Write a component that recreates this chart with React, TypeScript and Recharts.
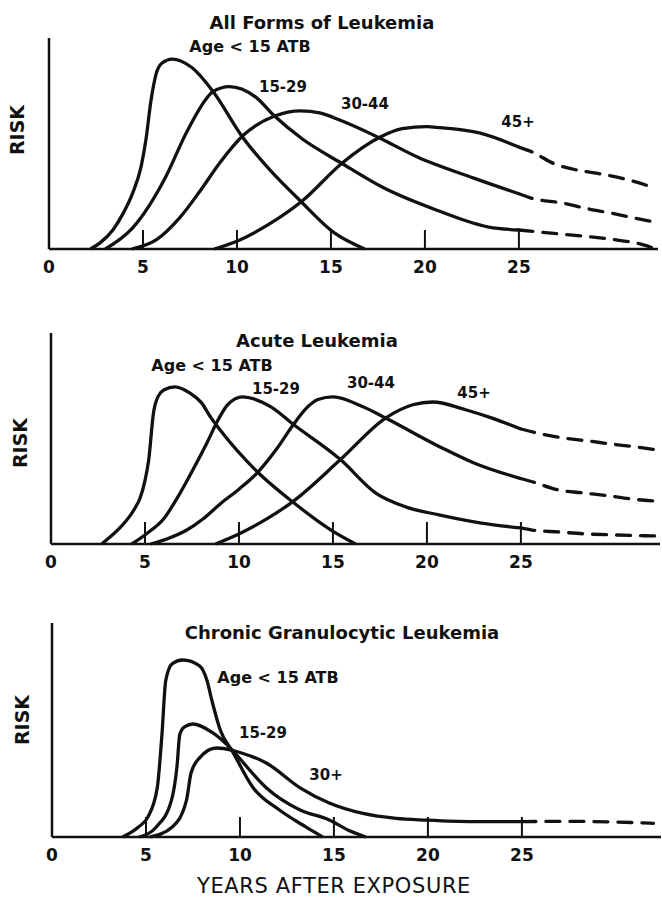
import React from "react";
import { LineChart, Line, XAxis, YAxis, ReferenceLine } from "recharts";

// Risk curves: [years after exposure, relative risk 0..100]
// Solid part runs to 25 years, the dashed part is the extrapolation beyond.
const allU15 = [[2.2, 0], [2.7, 2.8], [3.4, 9], [3.95, 17], [4.45, 26.5], [4.9, 39], [5.16, 52], [5.42, 70], [5.7, 83], [6.0, 88], [6.55, 90], [7.6, 86], [8.7, 75], [10.3, 53], [11.8, 37], [13.35, 23], [15.2, 7.5], [16.8, 0]];
const all1529 = [[3.0, 0], [4.45, 10], [6.2, 34], [7.3, 55], [8.35, 71], [8.7, 74.5], [9.6, 77], [11.0, 72], [12.0, 63], [13.5, 52], [15.5, 41], [17.8, 29], [20.6, 18.5], [23.4, 10.4], [25, 9]];
const all1529Dash = [[25, 9], [26.1, 8], [28.5, 6], [30, 4.5], [31.4, 2.5], [32.1, 0.6]];
const all3044 = [[4.4, 0], [5.7, 4.3], [6.97, 15], [8.0, 27], [9.1, 41], [10.35, 54], [12.0, 63], [13.4, 65.5], [14.4, 64.5], [15.5, 61], [17.5, 53], [19.6, 43.6], [22.6, 33.6], [25, 26.2]];
const all3044Dash = [[25, 26.2], [25.7, 24], [27.3, 21.8], [28.7, 19], [29.9, 17], [31.7, 13.7], [32.4, 12.5]];
const all45 = [[8.8, 0], [10.15, 4.3], [11.75, 12], [13.5, 23], [15.6, 40.8], [17.6, 53], [18.8, 57], [20.1, 58], [20.8, 57.5], [22.9, 55], [25, 48.3]];
const all45Dash = [[25, 48.3], [25.7, 46], [26.9, 40.3], [28.1, 37.4], [29.4, 35.5], [30.85, 32.7], [32.2, 29]];

const acuteU15 = [[2.7, 0], [3.14, 3.3], [3.7, 8], [4.4, 16], [4.75, 22], [5.0, 30], [5.2, 40], [5.45, 62], [5.7, 70], [6.0, 73], [6.6, 74.5], [7.4, 71.5], [8.0, 67], [8.5, 60], [9.0, 54], [11.0, 34], [12.85, 20], [14.9, 6.6], [16.2, 0]];
const acute1529 = [[4.3, 0], [5.1, 5], [6.0, 12], [6.86, 24], [7.6, 36], [8.3, 48], [8.9, 59], [9.4, 66], [10.2, 69.7], [11.7, 65], [12.85, 57], [15.4, 40], [17.3, 24], [18.9, 17.5], [20.7, 13.7], [22.9, 9.9], [25, 7.6]];
const acute1529Dash = [[25, 7.6], [25.6, 6.6], [27, 5.7], [28.4, 4.8], [30, 4.3], [31.6, 3.9], [32.4, 3.8]];
const acute3044 = [[5.3, 0], [6.2, 2.5], [7.2, 6.5], [8.1, 12], [9.0, 19], [10.0, 26], [11.0, 34], [12.0, 45], [12.85, 56], [13.6, 64.5], [14.2, 68.5], [15.0, 69.7], [16.6, 65], [17.8, 59.7], [20.7, 46], [22.5, 38.4], [25, 31]];
const acute3044Dash = [[25, 31], [25.6, 29.5], [27, 25.6], [28.2, 24.3], [29.6, 22.9], [30.9, 21.3], [32.2, 20.3]];
const acute45 = [[8.75, 0], [10.05, 5], [11.5, 12], [12.85, 20], [15.4, 40], [17.8, 59.7], [19.25, 66], [20.3, 67.3], [22.1, 63.5], [23.35, 60], [25, 54.5]];
const acute45Dash = [[25, 54.5], [25.85, 52.6], [27.2, 50.3], [28.6, 48.8], [29.8, 47.4], [31.1, 46], [32.3, 44.5]];

const cglU15 = [[3.75, 0], [4.6, 4.7], [5.1, 9.3], [5.6, 23], [5.85, 48], [6.05, 73], [6.4, 81], [6.95, 82.7], [7.85, 80], [8.25, 73], [8.5, 64], [8.95, 50], [9.6, 40], [10.7, 23], [12.1, 12.6], [13.5, 4.7], [14.4, 0]];
const cgl1529 = [[4.65, 0], [5.55, 4.7], [6.35, 17], [6.65, 33], [6.8, 48], [7.05, 51.5], [7.5, 52.8], [8.5, 49], [9.6, 40.5], [10.0, 36.5], [11.4, 23], [13.2, 12.6], [14.75, 8], [15.8, 3], [16.7, 0]];
const cgl30 = [[5.2, 0], [6.4, 4.7], [7.15, 17], [7.4, 30], [7.85, 37], [8.75, 41.6], [9.6, 40.5], [10.0, 39.5], [11.4, 34.6], [13.2, 23], [14.75, 15.9], [16.55, 11], [18.3, 8.7], [19.9, 7.9], [22.4, 7.2], [25, 7.2]];
const cgl30Dash = [[25, 7.2], [27.5, 7.3], [30, 7], [32, 6.4]];

const yearTicks = [0, 5, 10, 15, 20, 25];
const X_MAX = 32.4;

const INK = "#111";
const FONT = "'DejaVu Sans', Arial, sans-serif";

const pts = (a: number[][]) => a.map(([x, y]) => ({ x, y }));

const panels = [
  { top: 0, h: 300, x0: 49, plotTop: 38, plotBottom: 249, tickLen: 19,
    solid: [allU15, all1529, all3044, all45], dashed: [all1529Dash, all3044Dash, all45Dash] },
  { top: 300, h: 300, x0: 51, plotTop: 333, plotBottom: 544, tickLen: 22,
    solid: [acuteU15, acute1529, acute3044, acute45], dashed: [acute1529Dash, acute3044Dash, acute45Dash] },
  { top: 600, h: 301, x0: 52, plotTop: 623, plotBottom: 837, tickLen: 20,
    solid: [cglU15, cgl1529, cgl30], dashed: [cgl30Dash] },
];

function YearTick({ x, y, payload, len }: any) {
  return (
    <g>
      {payload.value > 0 && <line x1={x} x2={x} y1={y} y2={y - len} stroke={INK} strokeWidth={2} />}
      <text x={x} y={y + 18} textAnchor="middle" dominantBaseline="central"
        style={{ fontFamily: FONT, fontWeight: 700, fontSize: 17, fill: INK }}>{payload.value}</text>
    </g>
  );
}

function Panel({ p }: { p: typeof panels[number] }) {
  const XH = 30;
  const margin = { top: p.plotTop - p.top, bottom: p.top + p.h - p.plotBottom - XH, left: p.x0, right: 662 - p.x0 - 609 };
  return (
    <div style={{ position: "absolute", left: 0, top: p.top }}>
      <LineChart width={662} height={p.h} margin={margin}>
        <XAxis type="number" dataKey="x" domain={[0, X_MAX]} ticks={yearTicks} interval={0} allowDataOverflow
          height={XH} tickSize={0} tickMargin={0} tickLine={false}
          axisLine={{ stroke: INK, strokeWidth: 2.5 }} tick={(t: any) => <YearTick {...t} len={p.tickLen} />} />
        <YAxis type="number" dataKey="y" domain={[0, 100]} hide />
        <ReferenceLine x={0} stroke={INK} strokeWidth={2.5} />
        {p.solid.map((s, i) => (
          <Line key={"s" + i} data={pts(s)} dataKey="y" type="monotone" stroke={INK} strokeWidth={3.3}
            dot={false} activeDot={false} isAnimationActive={false} strokeLinejoin="round" />
        ))}
        {p.dashed.map((s, i) => (
          <Line key={"d" + i} data={pts(s)} dataKey="y" type="monotone" stroke={INK} strokeWidth={3.3}
            strokeDasharray="14 10" strokeLinecap="round" dot={false} activeDot={false} isAnimationActive={false} />
        ))}
      </LineChart>
    </div>
  );
}

const titles = [
  { t: "All Forms of Leukemia", x: 322, y: 22 },
  { t: "Acute Leukemia", x: 317, y: 340 },
  { t: "Chronic Granulocytic Leukemia", x: 342, y: 632 },
];
const curveLabels = [
  { t: "Age < 15 ATB", x: 250, y: 46 }, { t: "15-29", x: 283, y: 87 }, { t: "30-44", x: 365, y: 104 }, { t: "45+", x: 518, y: 122 },
  { t: "Age < 15 ATB", x: 212, y: 365 }, { t: "15-29", x: 276, y: 389 }, { t: "30-44", x: 371, y: 383 }, { t: "45+", x: 474, y: 393 },
  { t: "Age < 15 ATB", x: 278, y: 677 }, { t: "15-29", x: 263, y: 733 }, { t: "30+", x: 326, y: 775 },
];
const riskLabels = [{ x: 17, y: 130 }, { x: 20, y: 443 }, { x: 22, y: 720 }];

export default function App() {
  return (
    <div style={{ position: "absolute", left: 0, top: 0, width: 662, height: 901, background: "#fff" }}>
      {panels.map((p, i) => <Panel key={i} p={p} />)}
      <svg width={662} height={901} style={{ position: "absolute", left: 0, top: 0, pointerEvents: "none" }}>
        <g style={{ fontFamily: FONT, fill: INK }}>
          {titles.map((d, i) => (
            <text key={"t" + i} x={d.x} y={d.y} textAnchor="middle" dominantBaseline="central" fontSize={18} fontWeight={700}>{d.t}</text>
          ))}
          {curveLabels.map((d, i) => (
            <text key={"c" + i} x={d.x} y={d.y} textAnchor="middle" dominantBaseline="central"
              fontSize={d.t.startsWith("Age") ? 16 : 15} fontWeight={700}>{d.t}</text>
          ))}
          {riskLabels.map((d, i) => (
            <text key={"r" + i} x={d.x} y={d.y} textAnchor="middle" dominantBaseline="central" fontSize={19} fontWeight={700}
              transform={`rotate(-90 ${d.x} ${d.y})`}>RISK</text>
          ))}
          <text x={334} y={886} textAnchor="middle" dominantBaseline="central" fontSize={21} letterSpacing={0.6}>YEARS AFTER EXPOSURE</text>
        </g>
      </svg>
    </div>
  );
}
